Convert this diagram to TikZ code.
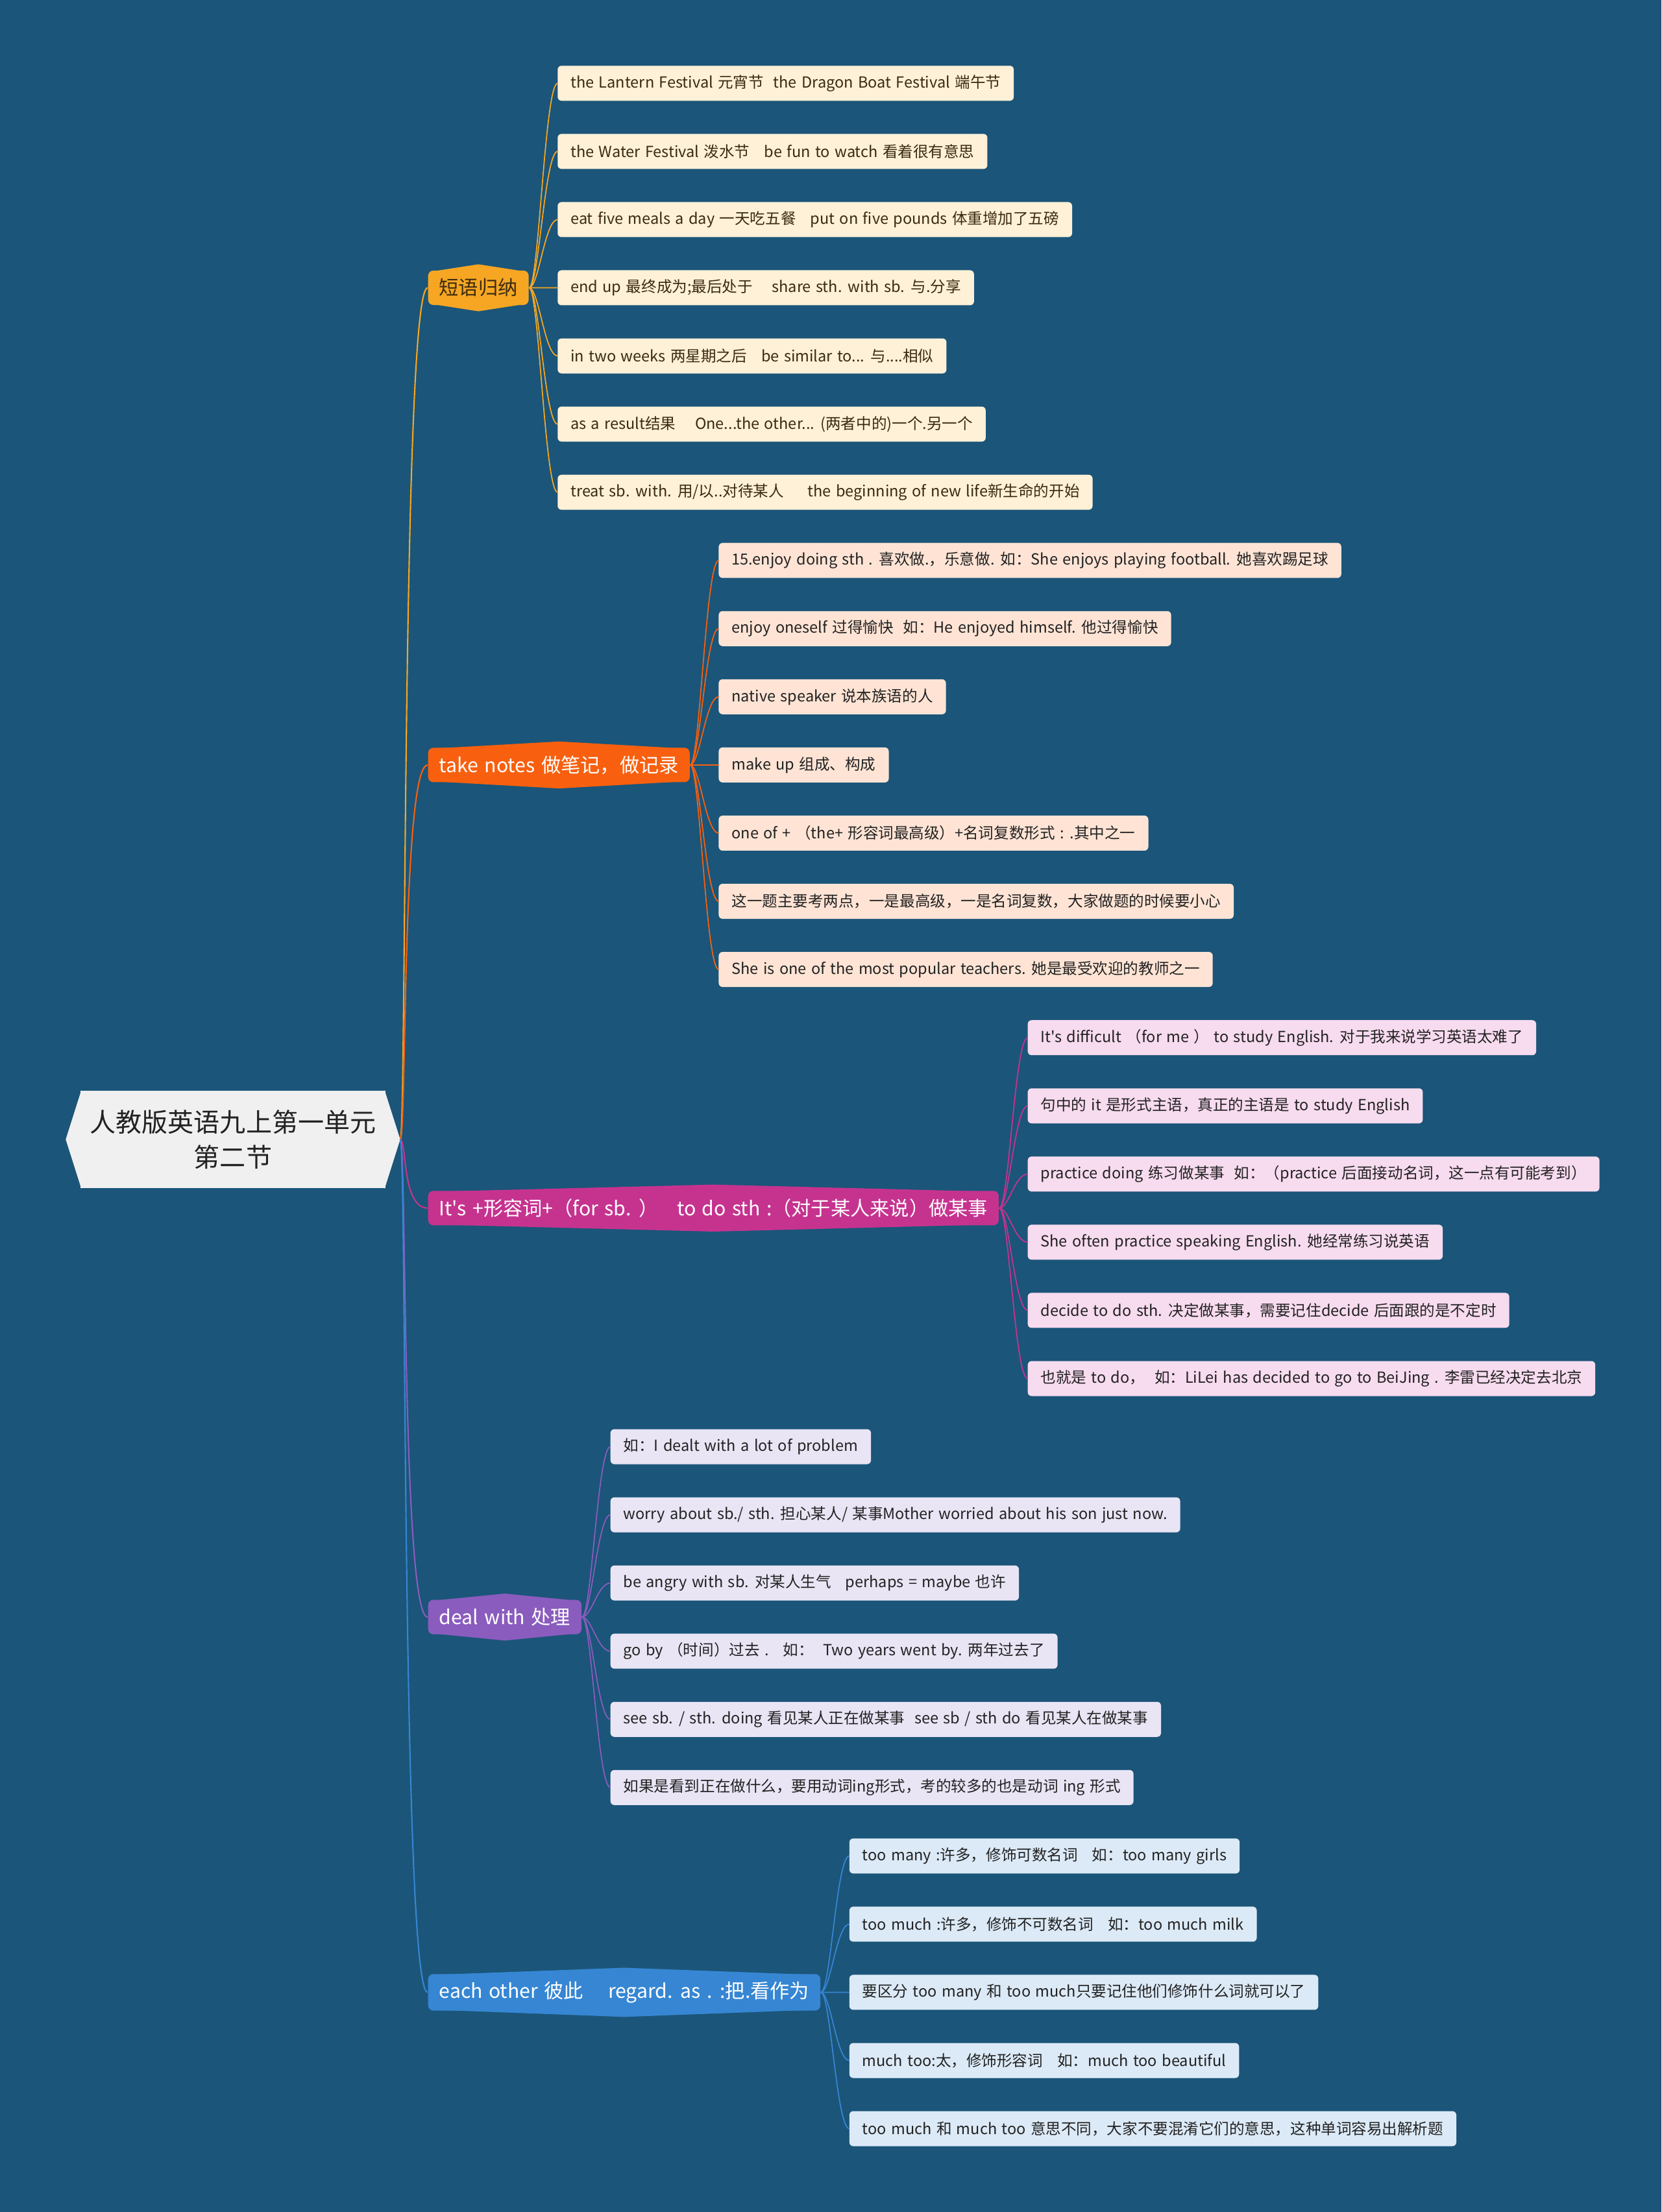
\documentclass[tikz,border=0pt]{standalone}
\usepackage{fontspec}
\setmainfont[WordSpace=1.4, Ligatures=TeXOff]{Noto Sans CJK SC}
\usepackage{tikz}
\usetikzlibrary{positioning}

\definecolor{page}{HTML}{1B5579}
\definecolor{rootc}{HTML}{F0F0F0}
\definecolor{amb}{HTML}{F6A623}
\definecolor{org}{HTML}{F8600F}
\definecolor{mag}{HTML}{C6338F}
\definecolor{pur}{HTML}{8A5CBE}
\definecolor{blu}{HTML}{3686D3}
\definecolor{lamb}{HTML}{FFF1D8}
\definecolor{lorg}{HTML}{FFE4D5}
\definecolor{lmag}{HTML}{F7DBEF}
\definecolor{lpur}{HTML}{E9E5F5}
\definecolor{lblu}{HTML}{DCEAF7}
\definecolor{brn}{HTML}{3A2A10}
\definecolor{ink}{HTML}{222222}

\begin{document}
\begin{tikzpicture}[node distance=0.5106cm, every node/.style={font=\fontsize{6.7}{8.4}\selectfont},
  lf/.style={rounded corners=0.06cm, anchor=west, outer sep=0pt, minimum height=0.54cm, inner xsep=0.2cm, text=ink},
  br/.style={rounded corners=0.08cm, anchor=west, minimum height=0.53cm, inner xsep=0.17cm, text=white, font=\fontsize{8.6}{10.3}\selectfont},
  ln/.style={line width=0.5pt}]
\useasboundingbox (0,0) rectangle (25.6,-34.09);
\fill[page] (0,0) rectangle (25.6,-34.09);

% root
\node[fill=rootc, text=ink, minimum width=4.7cm, minimum height=1.5cm, align=center, font=\fontsize{11.4}{15.4}\selectfont] (r) at (3.59,-17.56) {人教版英语九上第一单元\\第二节};
\fill[rootc] ([xshift=0.02cm]r.north west) -- ([xshift=-0.22cm]r.west) -- ([xshift=0.02cm]r.south west) -- cycle;
\fill[rootc] ([xshift=-0.02cm]r.north east) -- ([xshift=0.22cm]r.east) -- ([xshift=-0.02cm]r.south east) -- cycle;
\coordinate (rt) at ([xshift=0.22cm]r.east);

% branches
\node[br, fill=amb, text=brn] (b1) at (6.59,-4.435) {短语归纳};
\node[br, fill=org] (b2) at (6.59,-11.789) {take notes 做笔记，做记录};
\node[br, fill=mag] (b3) at (6.59,-18.618) {It's +形容词+（for sb. ）\ \ \ to do sth :（对于某人来说）做某事};
\node[br, fill=pur] (b4) at (6.59,-24.921) {deal with 处理};
\node[br, fill=blu] (b5) at (6.59,-30.704) {each other 彼此\ \ \ \ regard. as . :把.看作为};
\foreach \b/\c in {b1/amb,b2/org,b3/mag,b4/pur,b5/blu}
  \fill[\c] ([xshift=0.07cm,yshift=-0.02cm]\b.north west) -- ([yshift=0.09cm]\b.north) -- ([xshift=-0.07cm,yshift=-0.02cm]\b.north east) -- cycle
    ([xshift=0.07cm,yshift=0.02cm]\b.south west) -- ([yshift=-0.09cm]\b.south) -- ([xshift=-0.07cm,yshift=0.02cm]\b.south east) -- cycle;

% 短语归纳
\node[lf, fill=lamb, text=brn] (a1) at ([xshift=0.44cm, yshift=3.152cm]b1.east) {the Lantern Festival 元宵节\ \ the Dragon Boat Festival 端午节};
\node[lf, fill=lamb, text=brn, below=of a1.south west, anchor=north west] (a2) {the Water Festival 泼水节\ \ \ be fun to watch 看着很有意思};
\node[lf, fill=lamb, text=brn, below=of a2.south west, anchor=north west] (a3) {eat five meals a day 一天吃五餐\ \ \ put on five pounds 体重增加了五磅};
\node[lf, fill=lamb, text=brn, below=of a3.south west, anchor=north west] (a4) {end up 最终成为;最后处于\ \ \ \ share sth. with sb. 与.分享};
\node[lf, fill=lamb, text=brn, below=of a4.south west, anchor=north west] (a5) {in two weeks 两星期之后\ \ \ be similar to... 与....相似};
\node[lf, fill=lamb, text=brn, below=of a5.south west, anchor=north west] (a6) {as a result结果\ \ \ \ One...the other... (两者中的)一个.另一个};
\node[lf, fill=lamb, text=brn, below=of a6.south west, anchor=north west] (a7) {treat sb. with. 用/以..对待某人\ \ \ \ \ the beginning of new life新生命的开始};

% take notes
\node[lf, fill=lorg] (n1) at ([xshift=0.44cm, yshift=3.152cm]b2.east) {15.enjoy doing sth . 喜欢做.，乐意做. 如：She enjoys playing football. 她喜欢踢足球};
\node[lf, fill=lorg, below=of n1.south west, anchor=north west] (n2) {enjoy oneself 过得愉快\ \ 如：He enjoyed himself. 他过得愉快};
\node[lf, fill=lorg, below=of n2.south west, anchor=north west] (n3) {native speaker 说本族语的人};
\node[lf, fill=lorg, below=of n3.south west, anchor=north west] (n4) {make up 组成、构成};
\node[lf, fill=lorg, below=of n4.south west, anchor=north west] (n5) {one of + （the+ 形容词最高级）+名词复数形式 : .其中之一};
\node[lf, fill=lorg, below=of n5.south west, anchor=north west] (n6) {这一题主要考两点，一是最高级，一是名词复数，大家做题的时候要小心};
\node[lf, fill=lorg, below=of n6.south west, anchor=north west] (n7) {She is one of the most popular teachers. 她是最受欢迎的教师之一};

% It's ...
\node[lf, fill=lmag] (s1) at ([xshift=0.44cm, yshift=2.626cm]b3.east) {It's difficult （for me ）\ to study English. 对于我来说学习英语太难了};
\node[lf, fill=lmag, below=of s1.south west, anchor=north west] (s2) {句中的 it 是形式主语，真正的主语是 to study English};
\node[lf, fill=lmag, below=of s2.south west, anchor=north west] (s3) {practice doing 练习做某事\ \ 如：（practice 后面接动名词，这一点有可能考到）};
\node[lf, fill=lmag, below=of s3.south west, anchor=north west] (s4) {She often practice speaking English. 她经常练习说英语};
\node[lf, fill=lmag, below=of s4.south west, anchor=north west] (s5) {decide to do sth. 决定做某事，需要记住decide 后面跟的是不定时};
\node[lf, fill=lmag, below=of s5.south west, anchor=north west] (s6) {也就是 to do，\ \ 如：LiLei has decided to go to BeiJing . 李雷已经决定去北京};

% deal with
\node[lf, fill=lpur] (d1) at ([xshift=0.44cm, yshift=2.626cm]b4.east) {如：I dealt with a lot of problem};
\node[lf, fill=lpur, below=of d1.south west, anchor=north west] (d2) {worry about sb./ sth. 担心某人/ 某事Mother worried about his son just now.};
\node[lf, fill=lpur, below=of d2.south west, anchor=north west] (d3) {be angry with sb. 对某人生气\ \ \ perhaps = maybe 也许};
\node[lf, fill=lpur, below=of d3.south west, anchor=north west] (d4) {go by （时间）过去 .\ \ \ 如：\ \ Two years went by. 两年过去了};
\node[lf, fill=lpur, below=of d4.south west, anchor=north west] (d5) {see sb. / sth. doing 看见某人正在做某事\ \ see sb / sth do 看见某人在做某事};
\node[lf, fill=lpur, below=of d5.south west, anchor=north west] (d6) {如果是看到正在做什么，要用动词ing形式，考的较多的也是动词 ing 形式};

% each other
\node[lf, fill=lblu] (e1) at ([xshift=0.44cm, yshift=2.101cm]b5.east) {too many :许多，修饰可数名词\ \ \ 如：too many girls};
\node[lf, fill=lblu, below=of e1.south west, anchor=north west] (e2) {too much :许多，修饰不可数名词\ \ \ 如：too much milk};
\node[lf, fill=lblu, below=of e2.south west, anchor=north west] (e3) {要区分 too many 和 too much只要记住他们修饰什么词就可以了};
\node[lf, fill=lblu, below=of e3.south west, anchor=north west] (e4) {much too:太，修饰形容词\ \ \ 如：much too beautiful};
\node[lf, fill=lblu, below=of e4.south west, anchor=north west] (e5) {too much 和 much too 意思不同，大家不要混淆它们的意思，这种单词容易出解析题};

% connectors
\foreach \b/\c in {b1/amb,b2/org,b3/mag,b4/pur,b5/blu}
  \draw[line width=0.6pt, \c] (rt) .. controls +(0.1,0) and +(-0.4,0) .. (\b.west);
\foreach \i in {1,...,7} \draw[ln, amb] (b1.east) .. controls +(0.15,0) and +(-0.2,0) .. (a\i.west);
\foreach \i in {1,...,7} \draw[ln, org] (b2.east) .. controls +(0.15,0) and +(-0.2,0) .. (n\i.west);
\foreach \i in {1,...,6} \draw[ln, mag] (b3.east) .. controls +(0.15,0) and +(-0.2,0) .. (s\i.west);
\foreach \i in {1,...,6} \draw[ln, pur] (b4.east) .. controls +(0.15,0) and +(-0.2,0) .. (d\i.west);
\foreach \i in {1,...,5} \draw[ln, blu] (b5.east) .. controls +(0.15,0) and +(-0.2,0) .. (e\i.west);
\end{tikzpicture}
\end{document}
